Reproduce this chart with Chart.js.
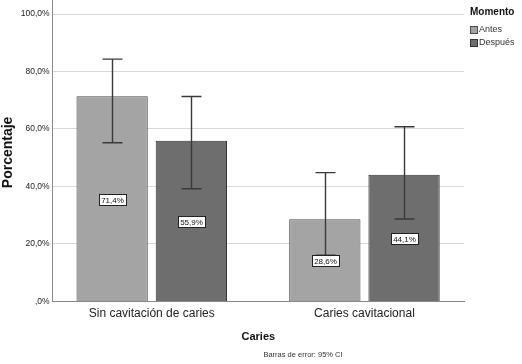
<!DOCTYPE html>
<html>
<head>
<meta charset="utf-8">
<script src="https://cdn.jsdelivr.net/npm/chart.js@4/dist/chart.umd.min.js"></script>
<style>
  html, body { margin: 0; padding: 0; background: #fff; }
  #wrap { width: 522px; height: 364px; }
</style>
</head>
<body>
<div id="wrap"><canvas id="chart" width="522" height="364"></canvas></div>
<script>
// data
const categories = ["Sin cavitación de caries", "Caries cavitacional"];
const antesValues = [71.4, 28.6];
const despuesValues = [55.9, 44.1];
const antesLow = [55.2, 16.1];
const antesHigh = [84.3, 44.8];
const despuesLow = [39.2, 28.7];
const despuesHigh = [71.3, 60.8];
const yTickValues = [0, 20, 40, 60, 80, 100];
const yTickLabels = [",0%", "20,0%", "40,0%", "60,0%", "80,0%", "100,0%"];

const errorLow = [antesLow, despuesLow];
const errorHigh = [antesHigh, despuesHigh];
const FONT = "'Liberation Sans', Arial, sans-serif";

function fmt(v) {
    return v.toFixed(1).replace(".", ",") + "%";
}

// categories sit at x = 0, 1 on a linear axis so the groups can be placed like SPSS does
function toPoints(values) {
    return values.map((v, i) => ({ x: i, y: v }));
}

// whiskers, value boxes, legend and footnote
const extrasPlugin = {
    id: "extras",
    afterDatasetsDraw(chart) {
        var ctx = chart.ctx;
        var yScale = chart.scales.y;
        chart.data.datasets.forEach((ds, i) => {
            var meta = chart.getDatasetMeta(i);
            meta.data.forEach((bar, j) => {
                var x = Math.round(bar.x) + 0.5;
                var yLo = yScale.getPixelForValue(errorLow[i][j]);
                var yHi = yScale.getPixelForValue(errorHigh[i][j]);
                ctx.save();
                ctx.strokeStyle = "#3a3a3a";
                ctx.lineWidth = 1.4;
                ctx.beginPath();
                ctx.moveTo(x, yLo);
                ctx.lineTo(x, yHi);
                ctx.moveTo(x - 10, yHi);
                ctx.lineTo(x + 10, yHi);
                ctx.moveTo(x - 10, yLo);
                ctx.lineTo(x + 10, yLo);
                ctx.stroke();

                // label box at half height of the bar
                var value = ds.data[j].y;
                var text = fmt(value);
                var yMid = Math.round(yScale.getPixelForValue(value / 2));
                ctx.font = "8px " + FONT;
                var w = Math.round(ctx.measureText(text).width + 4);
                var h = 11;
                var bx = Math.round(x - w / 2);
                var by = Math.round(yMid - h / 2);
                ctx.fillStyle = "#fff";
                ctx.fillRect(bx, by, w, h);
                ctx.strokeStyle = "#222";
                ctx.lineWidth = 1;
                ctx.strokeRect(bx + 0.5, by + 0.5, w, h);
                ctx.fillStyle = "#111";
                ctx.textAlign = "center";
                ctx.textBaseline = "middle";
                ctx.fillText(text, x, by + h / 2 + 1);
                ctx.restore();
            });
        });
    },
    afterDraw(chart) {
        var ctx = chart.ctx;
        var area = chart.chartArea;
        ctx.save();
        // y axis line runs up to the top edge
        var ax = Math.round(area.left - 0.5) + 0.5;
        ctx.strokeStyle = "#888";
        ctx.lineWidth = 1;
        ctx.beginPath();
        ctx.moveTo(ax, 0);
        ctx.lineTo(ax, area.top + 1);
        ctx.stroke();
        // legend
        ctx.fillStyle = "#111";
        ctx.font = "bold 10px " + FONT;
        ctx.textAlign = "left";
        ctx.textBaseline = "alphabetic";
        ctx.fillText("Momento", 470, 15);
        chart.data.datasets.forEach((ds, i) => {
            var y = 26 + i * 13;
            ctx.fillStyle = ds.backgroundColor;
            ctx.fillRect(470, y, 7, 7);
            ctx.strokeStyle = ds.borderColor;
            ctx.lineWidth = 1;
            ctx.strokeRect(470.5, y + 0.5, 7, 7);
            ctx.fillStyle = "#333";
            ctx.font = "9px " + FONT;
            ctx.textBaseline = "middle";
            ctx.fillText(ds.label, 479, y + 4);
        });
        // footnote
        ctx.fillStyle = "#333";
        ctx.font = "7.5px " + FONT;
        ctx.textAlign = "center";
        ctx.textBaseline = "middle";
        ctx.fillText("Barras de error: 95% CI", 303, 355);
        ctx.restore();
    }
};

var chart = new Chart(document.getElementById("chart").getContext("2d"), {
    type: "bar",
    data: {
        datasets: [
            {
                label: "Antes",
                data: toPoints(antesValues),
                backgroundColor: "#a4a4a4",
                borderColor: "#4a4a4a",
                borderWidth: 1
            },
            {
                label: "Después",
                data: toPoints(despuesValues),
                backgroundColor: "#6e6e6e",
                borderColor: "#333333",
                borderWidth: 1
            }
        ]
    },
    options: {
        responsive: false,
        animation: false,
        layout: { padding: { top: 0, left: 0, right: 58, bottom: 20 } },
        datasets: {
            bar: { categoryPercentage: 0.745, barPercentage: 0.9 }
        },
        plugins: {
            legend: { display: false },
            tooltip: { enabled: false }
        },
        scales: {
            x: {
                type: "linear",
                min: -0.466,
                max: 1.468,
                offset: false,
                afterBuildTicks: function(scale) {
                    scale.ticks = categories.map((c, i) => ({ value: i }));
                },
                grid: { display: false, drawTicks: false },
                border: { color: "#888", width: 1 },
                ticks: {
                    color: "#222",
                    font: { family: FONT, size: 12 },
                    padding: 5,
                    maxRotation: 0,
                    callback: function(value) {
                        return categories[value] !== undefined ? categories[value] : "";
                    }
                },
                title: {
                    display: true,
                    text: "Caries",
                    color: "#111",
                    font: { family: FONT, size: 11, weight: "bold" },
                    padding: { top: 5, bottom: 0 }
                }
            },
            y: {
                min: 0,
                max: 103.7,
                afterBuildTicks: function(scale) {
                    scale.ticks = yTickValues.map(v => ({ value: v }));
                },
                grid: { color: "#d9d9d9", drawTicks: false },
                border: { color: "#888", width: 1 },
                ticks: {
                    color: "#222",
                    padding: 3,
                    font: { family: FONT, size: 8.5, lineHeight: 0.1 },
                    callback: function(value) {
                        var k = yTickValues.indexOf(value);
                        return k >= 0 ? yTickLabels[k] : "";
                    }
                },
                title: {
                    display: true,
                    text: "Porcentaje",
                    color: "#111",
                    font: { family: FONT, size: 14, weight: "bold" },
                    padding: { top: 0, bottom: 1 }
                }
            }
        }
    },
    plugins: [extrasPlugin]
});
</script>
</body>
</html>
